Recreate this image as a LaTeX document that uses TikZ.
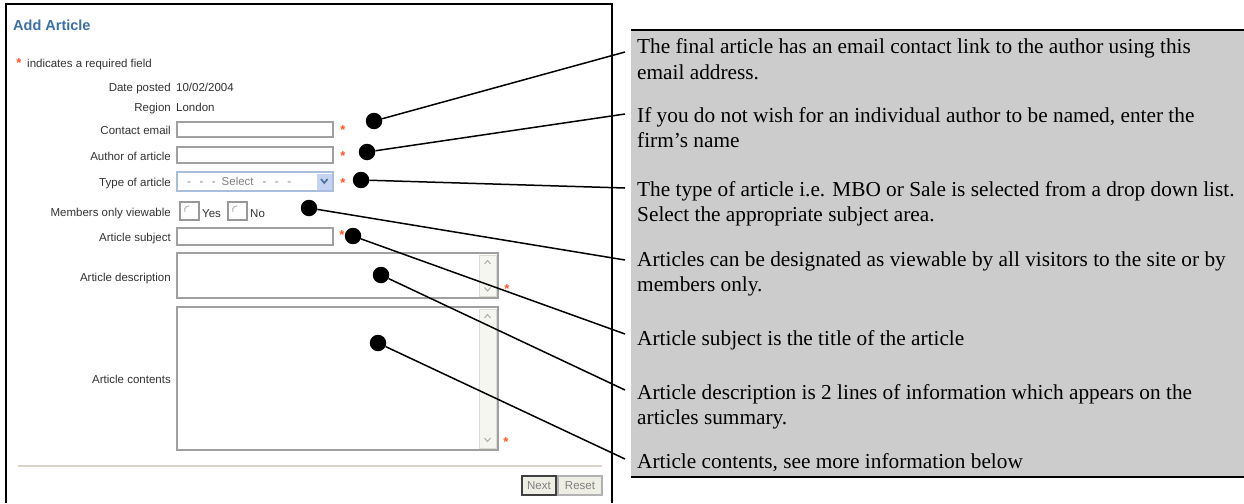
\documentclass[tikz,border=0pt]{standalone}
\usepackage{fontspec}
\setmainfont{Liberation Serif}
\newfontfamily\uisans{Liberation Sans}
\definecolor{panelgray}{HTML}{CCCCCC}
\definecolor{titleblue}{HTML}{3B6FA8}
\definecolor{labelgray}{HTML}{333333}
\definecolor{starred}{HTML}{FF5522}
\definecolor{fieldborder}{HTML}{A0A0A0}
\definecolor{selborder}{HTML}{A9BEDD}
\definecolor{selbtn}{HTML}{C3D3F0}
\definecolor{chev}{HTML}{4A6FA5}
\definecolor{rulegray}{HTML}{D8D5C8}
\definecolor{btnfill}{HTML}{EFEEE4}
\definecolor{scrollfill}{HTML}{F6F6F0}
\definecolor{scrolledge}{HTML}{DCDCD4}
\begin{document}
\begin{tikzpicture}[x=1pt,y=-1pt,
  uifont/.style={font=\uisans\fontsize{11.5}{13}\selectfont},
  lbl/.style={uifont, text=labelgray, inner sep=0, anchor=base east},
  val/.style={uifont, text=labelgray, inner sep=0, anchor=base west},
  field/.style={draw=fieldborder, line width=1.4, fill=white},
  req/.style={font=\uisans\bfseries\fontsize{13}{13}\selectfont, text=starred, inner sep=0},
  dot/.style={circle, fill=black, minimum size=16.5pt, inner sep=0},
  callout/.style={line width=1.5pt, black},
  note/.style={font=\fontsize{21.3}{25}\selectfont, inner sep=0, anchor=base west},
  scrollbar/.style={fill=scrollfill, draw=scrolledge, line width=0.8},
  chevron/.style={draw=gray!70, line width=0.9},
  btn/.style={fill=btnfill, line width=1.2},
  radiobox/.style={draw=gray!80, line width=1.2, fill=white},
  radiomark/.style={draw=gray!60, line width=0.9},
]
\useasboundingbox (0,0) rectangle (1244,503);
\fill[white] (0,0) rectangle (1244,503);

% ---------- screenshot frame ----------
\draw[line width=2.5pt] (6,503) -- (6,4) -- (612,4) -- (612,503);

\node[font=\uisans\bfseries\fontsize{14.5}{16}\selectfont, text=titleblue, anchor=base west, inner sep=0] (title) at (13,31) {Add Article};

\node[req] (reqstar) at (19,63) {*};
\node[val] (reqtext) at (27,67) {indicates a required field};

\node[lbl] (datel) at (171,92) {Date posted};
\node[val] (datev) at (176,92) {10/02/2004};
\node[lbl] (regl) at (171,111) {Region};
\node[val] (regv) at (176,111) {London};

% contact email
\node[lbl] (maill) at (171,134) {Contact email};
\draw[field] (177,122) rectangle (333,137);
\node[req] (s1) at (343,130) {*};

% author
\node[lbl] (authl) at (171,160) {Author of article};
\draw[field] (177,147) rectangle (333,163);
\node[req] (s2) at (343,156) {*};

% type of article
\node[lbl] (typel) at (171,186) {Type of article};
\draw[draw=selborder, line width=1.2, fill=white] (177,172) rectangle (333,191);
\fill[selbtn] (317,173.5) rectangle (331.5,189.5);
\draw[draw=chev, line width=1.6] (321,179) -- (324.3,183) -- (327.6,179);
\node[val, text=gray, anchor=base west] (seltxt) at (187,185) {-\hspace{8.5pt}-\hspace{8.5pt}-\hspace{6pt}Select\hspace{9pt}-\hspace{8.5pt}-\hspace{8.5pt}-};
\node[req] (s3) at (343,183) {*};

% members only viewable
\node[lbl] (meml) at (171,216) {Members only viewable};
\draw[radiobox] (180,202) rectangle (199,220);
\draw[radiomark] (185,212) arc[start angle=150, end angle=280, radius=4];
\node[val] (yes) at (202,217) {Yes};
\draw[radiobox] (228,202) rectangle (247,220);
\draw[radiomark] (233,212) arc[start angle=150, end angle=280, radius=4];
\node[val] (no) at (250,217) {No};

% article subject
\node[lbl] (subl) at (171,241) {Article subject};
\draw[field] (177,228) rectangle (333,245);
\node[req] (s4) at (342,235) {*};

% article description
\node[lbl] (descl) at (171,281) {Article description};
\draw[field] (177,253) rectangle (498,298);
\draw[scrollbar] (479,255) rectangle (496,296);
\draw[chevron] (484.5,264) -- (487.5,260.5) -- (490.5,264);
\draw[chevron] (484.5,287.5) -- (487.5,291) -- (490.5,287.5);
\node[req] (s5) at (507,289) {*};

% article contents
\node[lbl] (contl) at (171,383) {Article contents};
\draw[field] (177,307) rectangle (498,450);
\draw[scrollbar] (479,309) rectangle (496,448);
\draw[chevron] (484.5,318) -- (487.5,314.5) -- (490.5,318);
\draw[chevron] (484.5,438) -- (487.5,441.5) -- (490.5,438);
\node[req] (s6) at (506,442) {*};

% rule and buttons
\draw[rulegray, line width=2pt] (18,466) -- (602,466);
\draw[btn, draw=black!75, line width=1.6] (522,476) rectangle (556,495);
\node[uifont, text=gray, inner sep=0] (next) at (539,486) {Next};
\draw[btn, draw=gray!60] (558,476) rectangle (602,495);
\node[uifont, text=gray, inner sep=0] (reset) at (580,486) {Reset};

% ---------- grey notes panel ----------
\fill[panelgray] (631,30) rectangle (1244,477);
\draw[line width=2.5pt] (631,30) -- (1244,30);
\draw[line width=2.5pt] (631,477) -- (1244,477);

\node[note] (n1a) at (637,54) {The final article has an email contact link to the author using this};
\node[note] (n1b) at (637,79) {email address.};
\node[note] (n2a) at (637,122) {If you do not wish for an individual author to be named, enter the};
\node[note] (n2b) at (637,147) {firm’s name};
\node[note] (n3a) at (637,196) {The type of article i.e. MBO or Sale is selected from a drop down list.};
\node[note] (n3b) at (637,221) {Select the appropriate subject area.};
\node[note] (n4a) at (637,266) {Articles can be designated as viewable by all visitors to the site or by};
\node[note] (n4b) at (637,291) {members only.};
\node[note] (n5a) at (637,345) {Article subject is the title of the article};
\node[note] (n6a) at (637,399) {Article description is 2 lines of information which appears on the};
\node[note] (n6b) at (637,424) {articles summary.};
\node[note] (n7a) at (637,468) {Article contents, see more information below};

% ---------- callouts ----------
\node[dot] (d1) at (374,121) {};
\node[dot] (d2) at (367,152) {};
\node[dot] (d3) at (361,180) {};
\node[dot] (d4) at (309,208) {};
\node[dot] (d5) at (353,236) {};
\node[dot] (d6) at (381,275) {};
\node[dot] (d7) at (378,343) {};
\coordinate (e1) at (625,52);
\coordinate (e2) at (625,114);
\coordinate (e3) at (625,188);
\coordinate (e4) at (625,260);
\coordinate (e5) at (625,334);
\coordinate (e6) at (625,390);
\coordinate (e7) at (625,459);
\draw[callout] (d1) -- (e1);
\draw[callout] (d2) -- (e2);
\draw[callout] (d3) -- (e3);
\draw[callout] (d4) -- (e4);
\draw[callout] (d5) -- (e5);
\draw[callout] (d6) -- (e6);
\draw[callout] (d7) -- (e7);
\end{tikzpicture}
\end{document}
